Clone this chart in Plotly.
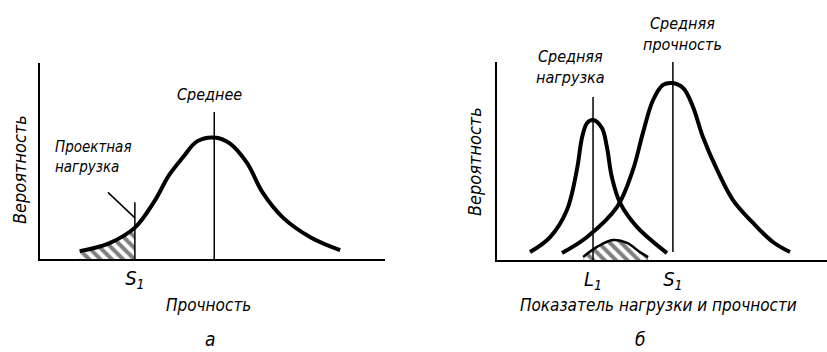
import plotly.graph_objects as go

W, H = 827, 352

# ---------------- data ----------------
# Panel а: strength distribution
a_x = [1.15, 2.0, 2.75, 3.3, 3.75, 4.15, 4.55, 5.05, 5.5, 6.0, 6.45, 7.05, 7.85, 8.7]
a_y = [0.04, 0.08, 0.16, 0.29, 0.43, 0.52, 0.60, 0.62, 0.59, 0.49, 0.34, 0.21, 0.11, 0.045]
a_S1 = 2.75
a_S1_top = 0.29
a_mean = 5.05
a_mean_top = 0.75
a_leader_x = [1.97, 2.75]
a_leader_y = [0.34, 0.21]
a_tick_vals = [a_S1]
a_tick_text = ["S<sub>1</sub>"]

# Panel б: load and strength distributions
load_x = [1.0, 1.61, 2.12, 2.42, 2.58, 2.73, 2.91, 3.18, 3.33, 3.48, 3.73, 4.24, 5.15]
load_y = [0.04, 0.116, 0.253, 0.455, 0.621, 0.692, 0.707, 0.667, 0.571, 0.419, 0.288, 0.167, 0.035]
str_x = [1.97, 2.73, 3.64, 4.12, 4.42, 4.73, 5.03, 5.30, 5.64, 5.94, 6.24, 6.67, 7.15, 7.76, 8.36, 8.88]
str_y = [0.035, 0.116, 0.268, 0.455, 0.641, 0.808, 0.884, 0.894, 0.869, 0.773, 0.621, 0.455, 0.303, 0.187, 0.091, 0.04]
over_x = [2.61, 3.03, 3.52, 3.94, 4.33, 4.58]
over_y = [0.015, 0.066, 0.101, 0.086, 0.04, 0.015]
b_L1 = 2.91
b_L1_top = 0.823
b_S1 = 5.33
b_S1_range = [0.04, 1.0]
b_tick_vals = [b_L1, b_S1]
b_tick_text = ["L<sub>1</sub>", "S<sub>1</sub>"]

# ---------------- helpers ----------------
FONT = "DejaVu Sans Condensed, Liberation Sans Narrow, DejaVu Sans, sans-serif"


def px(x):
    return x / W


def py(y):
    return 1 - y / H


BLACK = "black"
HATCH = dict(shape="\\", fgcolor=BLACK, bgcolor="white", size=8, solidity=0.5)
fig = go.Figure()

# Panel а
fig.add_trace(go.Scatter(x=[a for a in a_x if a <= a_S1], y=a_y[:3], mode="lines",
                         line=dict(shape="spline", color=BLACK, width=0), fill="tozeroy",
                         fillcolor="white", fillpattern=HATCH,
                         xaxis="x", yaxis="y", hoverinfo="skip"))
fig.add_trace(go.Scatter(x=a_x, y=a_y, mode="lines", line=dict(shape="spline", color=BLACK, width=4),
                         xaxis="x", yaxis="y"))
fig.add_trace(go.Scatter(x=[a_S1, a_S1], y=[0, a_S1_top], mode="lines", line=dict(color=BLACK, width=1.5),
                         xaxis="x", yaxis="y"))
fig.add_trace(go.Scatter(x=[a_mean, a_mean], y=[0, a_mean_top], mode="lines", line=dict(color=BLACK, width=1.5),
                         xaxis="x", yaxis="y"))
fig.add_trace(go.Scatter(x=a_leader_x, y=a_leader_y, mode="lines", line=dict(color=BLACK, width=1.5),
                         xaxis="x", yaxis="y"))

# Panel б
fig.add_trace(go.Scatter(x=over_x, y=over_y, mode="lines",
                         line=dict(shape="spline", color=BLACK, width=2.5), fill="tozeroy",
                         fillcolor="white", fillpattern=HATCH,
                         xaxis="x2", yaxis="y2"))
fig.add_trace(go.Scatter(x=load_x, y=load_y, mode="lines", line=dict(shape="spline", color=BLACK, width=4),
                         xaxis="x2", yaxis="y2"))
fig.add_trace(go.Scatter(x=str_x, y=str_y, mode="lines", line=dict(shape="spline", color=BLACK, width=4),
                         xaxis="x2", yaxis="y2"))
fig.add_trace(go.Scatter(x=[b_L1, b_L1], y=[0, b_L1_top], mode="lines", line=dict(color=BLACK, width=1.5),
                         xaxis="x2", yaxis="y2"))
fig.add_trace(go.Scatter(x=[b_S1, b_S1], y=b_S1_range, mode="lines", line=dict(color=BLACK, width=1.5),
                         xaxis="x2", yaxis="y2"))

tickfont = dict(family=FONT, size=20, color=BLACK, style="italic")
common_x = dict(range=[0, 10], showgrid=False, zeroline=False, showline=True, linecolor=BLACK, linewidth=2,
                ticks="", tickfont=tickfont, fixedrange=True)
common_y = dict(range=[0, 1], showgrid=False, zeroline=False, showline=True, linecolor=BLACK, linewidth=2,
                showticklabels=False, ticks="", fixedrange=True)

fig.update_layout(
    width=W, height=H, margin=dict(l=0, r=0, t=0, b=0),
    paper_bgcolor="white", plot_bgcolor="white", showlegend=False,
    xaxis=dict(common_x, domain=[px(40), px(385)], tickvals=a_tick_vals, ticktext=a_tick_text, anchor="y"),
    yaxis=dict(common_y, domain=[py(259), py(63)], anchor="x"),
    xaxis2=dict(common_x, domain=[px(497), 1.0], tickvals=b_tick_vals, ticktext=b_tick_text, anchor="y2"),
    yaxis2=dict(common_y, domain=[py(260), py(62)], anchor="x2"),
)


def note(text, x, y, size=16, angle=0, xanchor="center", align="center"):
    fig.add_annotation(text=text, x=px(x), y=py(y), xref="paper", yref="paper", showarrow=False,
                       textangle=angle, xanchor=xanchor, yanchor="middle", align=align,
                       font=dict(family=FONT, size=size, color=BLACK, style="italic"))


note("Вероятность", 19, 170, size=18, angle=-90)
note("Проектная<br>нагрузка", 53, 157, size=15, xanchor="left", align="left")
note("Среднее", 209, 94, size=16)
note("Прочность", 208, 305, size=17)
note("а", 210, 339, size=19)

note("Вероятность", 474, 162, size=18, angle=-90)
note("Средняя<br>нагрузка", 570, 67, size=16)
note("Средняя<br>прочность", 682, 34, size=16)
note("Показатель нагрузки и прочности", 658, 305, size=17)
note("б", 640, 339, size=19)

fig.write_html("out.html", config={"displayModeBar": False, "staticPlot": True},
               post_script="document.body.style.margin='0';document.body.style.overflow='hidden';")
